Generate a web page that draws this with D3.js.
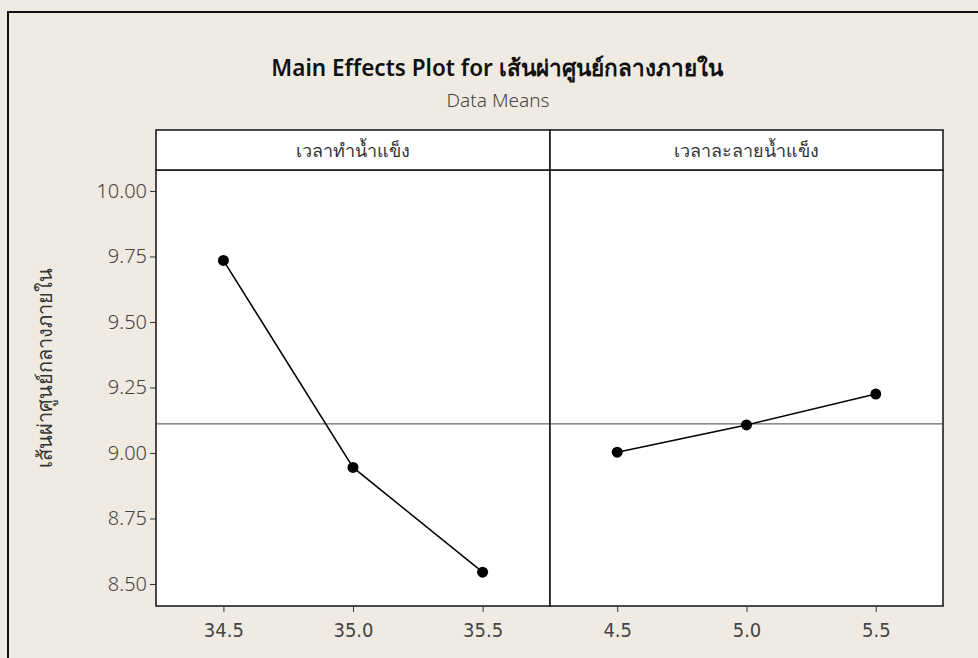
<!DOCTYPE html>
<html>
<head>
<meta charset="utf-8">
<script src="https://cdn.jsdelivr.net/npm/d3@7"></script>
<style>
  body { margin: 0; background: #efebe2; }
  svg text { font-family: "Noto Sans", "DejaVu Sans", sans-serif; }
</style>
</head>
<body>
<svg id="chart" width="978" height="658"></svg>
<script>
// factor names (strip titles)
var factors = ["เวลาทำน้ำแข็ง", "เวลาละลายน้ำแข็ง"];
// levels of each factor
var levels1 = [34.5, 35.0, 35.5];
var levels2 = [4.5, 5.0, 5.5];
// data means at each level
var means1 = [9.735, 8.945, 8.545];
var means2 = [9.003, 9.107, 9.225];
var grandMean = 9.111;
var yTicks = [8.50, 8.75, 9.00, 9.25, 9.50, 9.75, 10.00];
var xTicks1 = ["34.5", "35.0", "35.5"];
var xTicks2 = ["4.5", "5.0", "5.5"];

var svg = d3.select("#chart");

// outer frame
svg.append("rect")
   .attr("x", 8).attr("y", 12)
   .attr("width", 1000).attr("height", 700)
   .attr("fill", "#efebe2")
   .attr("stroke", "#111")
   .attr("stroke-width", 2);

// titles
svg.append("text")
   .attr("x", 497).attr("y", 76)
   .attr("text-anchor", "middle")
   .attr("font-size", 22.5).attr("font-weight", 600)
   .attr("fill", "#111")
   .text("Main Effects Plot for เส้นผ่าศูนย์กลางภายใน");

svg.append("text")
   .attr("x", 498).attr("y", 107)
   .attr("text-anchor", "middle")
   .attr("font-size", 19).attr("font-weight", 300)
   .attr("fill", "#444")
   .text("Data Means");

var stripTop = 130, plotTop = 170, plotBottom = 606;
var panels = [
  {x0: 156, x1: 550, name: factors[0], levels: levels1, means: means1, ticks: xTicks1},
  {x0: 550, x1: 943, name: factors[1], levels: levels2, means: means2, ticks: xTicks2}
];

var y = d3.scaleLinear().domain([8.416, 10.08]).range([plotBottom, plotTop]);

panels.forEach(function(p, i){
    var g = svg.append("g");
    var x = d3.scaleLinear()
              .domain([p.levels[0] - 0.26, p.levels[p.levels.length-1] + 0.26])
              .range([p.x0, p.x1]);

    // plot area
    g.append("rect")
     .attr("x", p.x0).attr("y", plotTop)
     .attr("width", p.x1 - p.x0).attr("height", plotBottom - plotTop)
     .attr("fill", "#fff").attr("stroke", "#111").attr("stroke-width", 1.5);

    // strip
    g.append("rect")
     .attr("x", p.x0).attr("y", stripTop)
     .attr("width", p.x1 - p.x0).attr("height", plotTop - stripTop)
     .attr("fill", "#fff").attr("stroke", "#111").attr("stroke-width", 1.5);

    g.append("text")
     .attr("x", (p.x0 + p.x1) / 2).attr("y", stripTop + 27)
     .attr("text-anchor", "middle")
     .attr("font-size", 18).attr("font-weight", 300).attr("fill", "#333")
     .text(p.name);

    // reference line at the grand mean
    g.append("line")
     .attr("x1", p.x0).attr("x2", p.x1)
     .attr("y1", y(grandMean)).attr("y2", y(grandMean))
     .attr("stroke", "#444").attr("stroke-width", 1);

    // x axis
    var xAxis = d3.axisBottom(x)
                  .tickValues(p.levels)
                  .tickFormat(function(d, k){ return p.ticks[k]; })
                  .tickSize(6).tickSizeOuter(0);
    var ax = g.append("g")
              .attr("transform", "translate(0," + plotBottom + ")")
              .call(xAxis);
    ax.select(".domain").remove();
    ax.selectAll("line").attr("stroke", "#333");
    ax.selectAll("text")
      .attr("font-size", 20).attr("fill", "#444")
      .attr("dy", "1.1em")
      .style("font-family", "'Liberation Sans Narrow', 'DejaVu Sans Condensed', sans-serif");

    // means line and points
    var pts = p.levels.map(function(l, k){ return [l, p.means[k]]; });
    g.append("path")
     .datum(pts)
     .attr("fill", "none")
     .attr("stroke", "#000").attr("stroke-width", 1.5)
     .attr("d", d3.line().x(function(d){ return x(d[0]); }).y(function(d){ return y(d[1]); }));

    g.selectAll("circle")
     .data(pts).enter().append("circle")
     .attr("cx", function(d){ return x(d[0]); })
     .attr("cy", function(d){ return y(d[1]); })
     .attr("r", 5.5)
     .attr("fill", "#000");
});

// y axis
var yAxis = d3.axisLeft(y)
              .tickValues(yTicks)
              .tickFormat(d3.format(".2f"))
              .tickSize(6).tickSizeOuter(0);
var ya = svg.append("g")
            .attr("transform", "translate(156,0)")
            .call(yAxis);
ya.select(".domain").remove();
ya.selectAll("line").attr("stroke", "#333");
ya.selectAll("text").attr("font-size", 20).attr("font-weight", 300)
  .attr("fill", "#444").attr("x", -9);

// y axis title
svg.append("text")
   .attr("transform", "translate(52," + ((stripTop + plotBottom) / 2) + ") rotate(-90)")
   .attr("text-anchor", "middle")
   .attr("font-size", 20).attr("font-weight", 300).attr("fill", "#333")
   .text("เส้นผ่าศูนย์กลางภายใน");
</script>
</body>
</html>
